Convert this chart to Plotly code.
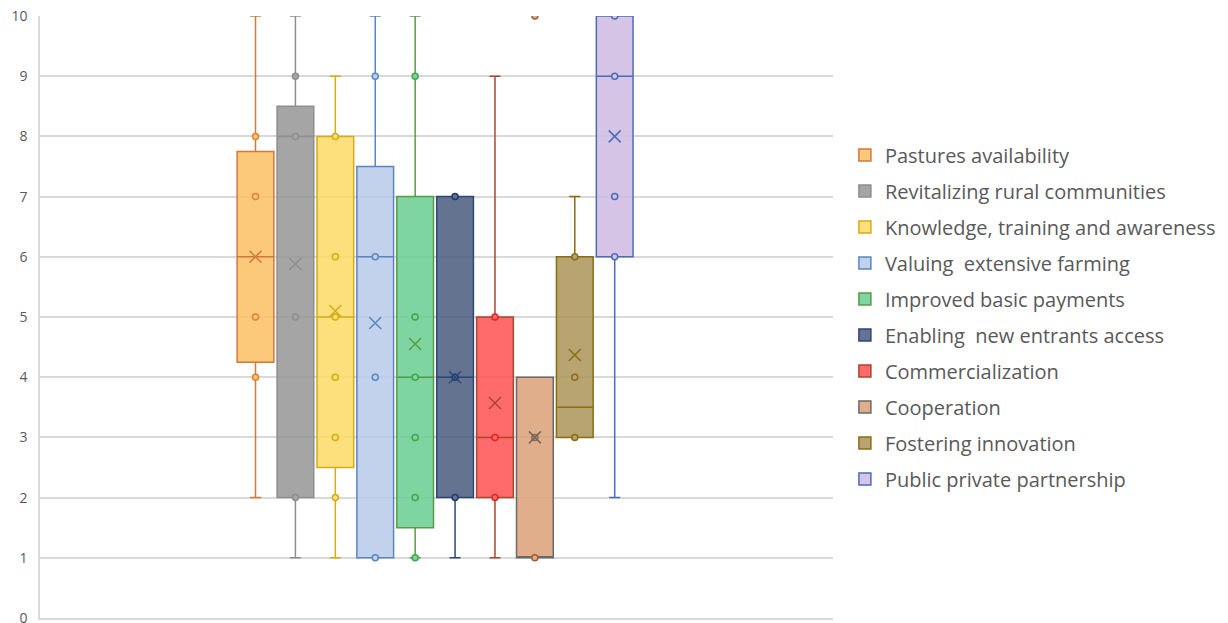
import plotly.graph_objects as go

# Survey scores (0-10) for each measure: box statistics, means and plotted points
categories = [
    "Pastures availability",
    "Revitalizing rural communities",
    "Knowledge, training and awareness",
    "Valuing  extensive farming",
    "Improved basic payments",
    "Enabling  new entrants access",
    "Commercialization",
    "Cooperation",
    "Fostering innovation",
    "Public private partnership",
]
q1 = [4.25, 2, 2.5, 1, 1.5, 2, 2, 1, 3, 6]
median = [6, 8, 5, 6, 4, 4, 3, 1, 3.5, 9]
q3 = [7.75, 8.5, 8, 7.5, 7, 7, 5, 4, 6, 10]
lower_whisker = [2, 1, 1, 1, 1, 1, 1, 1, 3, 2]
upper_whisker = [10, 10, 9, 10, 10, 7, 9, 4, 7, 10]
means = [6.0, 5.88, 5.1, 4.9, 4.55, 4.0, 3.57, 3.0, 4.37, 8.0]
points = [
    [8, 7, 5, 4],
    [9, 8, 5, 2],
    [8, 6, 5, 4, 3, 2],
    [9, 6, 4, 1],
    [9, 5, 4, 3, 2, 1],
    [7, 4, 2],
    [5, 3, 2],
    [10, 3, 1],
    [6, 4, 3],
    [10, 9, 7, 6],
]
y_ticks = [0, 1, 2, 3, 4, 5, 6, 7, 8, 9, 10]

# Styling
fill_colors = ["#FCC879", "#A5A5A5", "#FBE07C", "#C2D1EC", "#7ED5A0",
               "#637490", "#FF6B6B", "#E1AE8C", "#B8A46F", "#D5C4E5"]
line_colors = ["#D2783A", "#8E8E8E", "#D6AA18", "#5A86C0", "#5B9A45",
               "#2D477A", "#A8472E", "#6A6A6A", "#8A6C12", "#4A6CB8"]
point_colors = ["#E0842C", "#8E8E8E", "#D9AC14", "#5A86C0", "#3FA64E",
                "#1F3A6E", "#E0261E", "#A0603A", "#8A6C12", "#4A6CB8"]
ALPHA = 0.86


def translucent(hex_color, alpha=ALPHA):
    """Return an rgba colour that renders as hex_color over white."""
    h = hex_color.lstrip("#")
    rgb = [int(h[i:i + 2], 16) for i in (0, 2, 4)]
    base = [max(0, min(255, round((c - 255 * (1 - alpha)) / alpha))) for c in rgb]
    return f"rgba({base[0]},{base[1]},{base[2]},{alpha})"


BOX_WIDTH = 0.92
text_color = "#595959"
grid_color = "#D9D9D9"
font_family = "'Open Sans', Lato, sans-serif"

fig = go.Figure()

for i, name in enumerate(categories):
    fig.add_trace(go.Box(
        name=name,
        x=[i],
        q1=[q1[i]],
        median=[median[i]],
        q3=[q3[i]],
        lowerfence=[lower_whisker[i]],
        upperfence=[upper_whisker[i]],
        width=BOX_WIDTH,
        whiskerwidth=0.3,
        fillcolor=translucent(fill_colors[i]),
        line=dict(color=line_colors[i], width=1.5),
        boxpoints=False,
        legendgroup=name,
        hoverinfo="skip",
    ))

for i, name in enumerate(categories):
    fig.add_trace(go.Scatter(
        x=[i] * len(points[i]),
        y=points[i],
        mode="markers",
        marker=dict(symbol="circle", size=6, color=fill_colors[i],
                    line=dict(color=point_colors[i], width=1.5)),
        showlegend=False,
        legendgroup=name,
        hoverinfo="skip",
    ))
    fig.add_trace(go.Scatter(
        x=[i],
        y=[means[i]],
        mode="markers",
        marker=dict(symbol="x-thin-open", size=12, color=line_colors[i],
                    line=dict(color=line_colors[i], width=1.5)),
        showlegend=False,
        legendgroup=name,
        hoverinfo="skip",
    ))

fig.update_layout(
    width=1228,
    height=623,
    margin=dict(l=40, r=395, t=16, b=5, autoexpand=False),
    paper_bgcolor="white",
    plot_bgcolor="white",
    boxmode="overlay",
    font=dict(family=font_family, color=text_color),
    showlegend=True,
    legend=dict(
        x=1.015, xanchor="left",
        y=0.5, yanchor="middle",
        font=dict(size=20, color=text_color, family=font_family),
        tracegroupgap=7,
        itemclick=False,
        bgcolor="rgba(0,0,0,0)",
    ),
    xaxis=dict(
        range=[-5.40, 14.47],
        showticklabels=False,
        showgrid=False,
        zeroline=False,
        showline=True,
        linecolor=grid_color,
        linewidth=1.5,
        ticks="",
        automargin=False,
        fixedrange=True,
    ),
    yaxis=dict(
        range=[0, 10],
        tickvals=y_ticks,
        showgrid=True,
        gridcolor=grid_color,
        gridwidth=1.5,
        zeroline=False,
        showline=True,
        linecolor=grid_color,
        linewidth=1.5,
        ticks="",
        ticklabelstandoff=8,
        ticklabeloverflow="allow",
        tickfont=dict(size=14, color=text_color, family=font_family),
        automargin=False,
        fixedrange=True,
    ),
)

fig.write_html("out.html")
